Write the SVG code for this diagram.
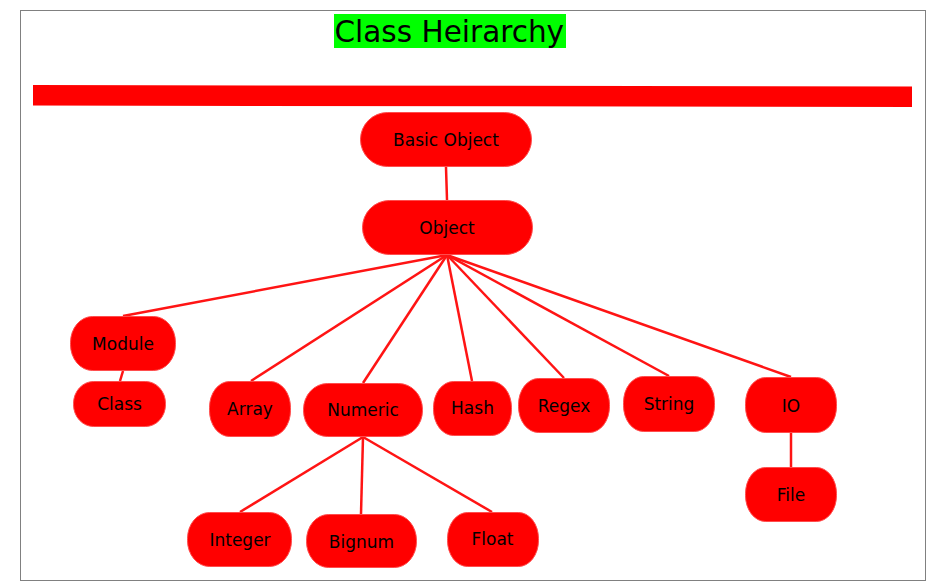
<svg xmlns="http://www.w3.org/2000/svg" width="932" height="585" viewBox="0 0 932 585">
<style>
.n{fill:#ff0000;stroke:#ff4d4d;stroke-width:1}
.t{font-family:"DejaVu Sans",sans-serif;font-size:17px;fill:#000;text-anchor:middle}
.c line{stroke:#ff1414;stroke-width:2.5}
</style>
<rect x="0" y="0" width="932" height="585" fill="#fff"/>
<rect x="20.5" y="10.5" width="905" height="570" fill="none" stroke="#000" stroke-width="1" stroke-dasharray="1,1"/>
<g id="title">
<rect x="334" y="14" width="232" height="34" fill="#00ff00"/>
<text x="334.5" y="42" font-family="DejaVu Sans, sans-serif" font-size="29.5" fill="#000">Class Heirarchy</text>
</g>
<polygon id="bar" points="33,85 912,86.5 912,107 33,105.5" fill="#ff0000"/>
<g class="c" id="connectors">
<line x1="446" y1="167" x2="447" y2="200"/>
<line x1="447" y1="255" x2="123" y2="316"/>
<line x1="447" y1="255" x2="251" y2="381"/>
<line x1="447" y1="255" x2="363" y2="383"/>
<line x1="447" y1="255" x2="472" y2="381"/>
<line x1="447" y1="255" x2="564" y2="378"/>
<line x1="447" y1="255" x2="669" y2="376"/>
<line x1="447" y1="255" x2="791" y2="377"/>
<line x1="123" y1="371" x2="120" y2="381"/>
<line x1="791" y1="433" x2="791" y2="467"/>
<line x1="363" y1="437" x2="240" y2="512"/>
<line x1="363" y1="437" x2="361" y2="514"/>
<line x1="363" y1="437" x2="492" y2="512"/>
</g>
<g id="basic-object"><rect class="n" x="360.5" y="112.5" width="171" height="54" rx="27" ry="27"/><text class="t" x="446" y="145.5">Basic Object</text></g>
<g id="object"><rect class="n" x="362.5" y="200.5" width="170" height="54" rx="27" ry="27"/><text class="t" x="447" y="233.5">Object</text></g>
<g id="module"><rect class="n" x="70.5" y="316.5" width="105" height="54" rx="22" ry="26"/><text class="t" x="123" y="349.5">Module</text></g>
<g id="class"><rect class="n" x="73.5" y="381.5" width="92" height="45" rx="20" ry="22"/><text class="t" x="119.5" y="410">Class</text></g>
<g id="array"><rect class="n" x="209.5" y="381.5" width="81" height="55" rx="20" ry="26"/><text class="t" x="250" y="415">Array</text></g>
<g id="numeric"><rect class="n" x="303.5" y="383.5" width="119" height="53" rx="24" ry="26"/><text class="t" x="363" y="415.5">Numeric</text></g>
<g id="hash"><rect class="n" x="433.5" y="381.5" width="78" height="54" rx="20" ry="26"/><text class="t" x="472.5" y="414">Hash</text></g>
<g id="regex"><rect class="n" x="518.5" y="378.5" width="91" height="54" rx="20" ry="26"/><text class="t" x="564" y="411.5">Regex</text></g>
<g id="string"><rect class="n" x="623.5" y="376.5" width="91" height="55" rx="20" ry="26"/><text class="t" x="669" y="409.5">String</text></g>
<g id="io"><rect class="n" x="745.5" y="377.5" width="91" height="55" rx="20" ry="26"/><text class="t" x="791" y="411.5">IO</text></g>
<g id="file"><rect class="n" x="745.5" y="467.5" width="91" height="54" rx="20" ry="26"/><text class="t" x="791" y="500.5">File</text></g>
<g id="integer"><rect class="n" x="187.5" y="512.5" width="104" height="54" rx="22" ry="26"/><text class="t" x="240" y="545.5">Integer</text></g>
<g id="bignum"><rect class="n" x="306.5" y="514.5" width="110" height="53" rx="22" ry="26"/><text class="t" x="361.5" y="548">Bignum</text></g>
<g id="float"><rect class="n" x="447.5" y="512.5" width="91" height="54" rx="20" ry="26"/><text class="t" x="492.5" y="545">Float</text></g>
</svg>
